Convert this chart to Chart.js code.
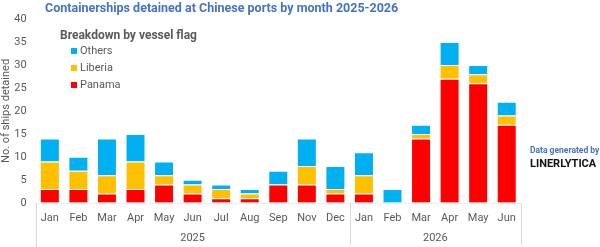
<!DOCTYPE html>
<html>
<head>
<meta charset="utf-8">
<script src="https://cdn.jsdelivr.net/npm/chart.js@4"></script>
<style>
  html, body { margin: 0; padding: 0; background: #fff; }
  #wrap { width: 600px; height: 247px; position: relative; }
</style>
</head>
<body>
<div id="wrap"><canvas id="myChart"></canvas></div>
<script>
// data
const months = ["Jan", "Feb", "Mar", "Apr", "May", "Jun", "Jul", "Aug", "Sep", "Nov", "Dec",
                "Jan", "Feb", "Mar", "Apr", "May", "Jun"];
const years = ["2025", "2026"];
const monthsPerYear = [11, 6];
const panama = [3, 3, 2, 3, 4, 2, 1, 1, 4, 4, 2, 2, 0, 14, 27, 26, 17];
const liberia = [6, 4, 4, 6, 2, 2, 2, 1, 0, 4, 1, 4, 0, 1, 3, 2, 2];
const others = [5, 3, 8, 6, 3, 1, 1, 1, 3, 6, 5, 5, 3, 2, 5, 2, 3];
const yTicks = [0, 40, 5];

const fontFam = "Roboto, 'Noto Sans', sans-serif";
const grey = "#595959";

// title, legend box, source note
const decoPlugin = {
  id: "deco",
  afterDraw(chart) {
    const ctx = chart.ctx;
    const area = chart.chartArea;
    ctx.save();
    ctx.textBaseline = "middle";
    ctx.textAlign = "left";

    ctx.fillStyle = "#4472C4";
    ctx.font = "bold 12.5px " + fontFam;
    ctx.fillText("Containerships detained at Chinese ports by month 2025-2026", 45, 9);

    ctx.fillStyle = grey;
    ctx.font = "bold 12px " + fontFam;
    ctx.fillText("Breakdown by vessel flag", 60, 36);

    ctx.font = "11px " + fontFam;
    const ds = chart.data.datasets.slice().reverse();
    ds.forEach(function (d, i) {
      const y = 51 + i * 17;
      ctx.fillStyle = d.backgroundColor;
      ctx.fillRect(71, y - 3, 6, 6);
      ctx.fillStyle = grey;
      ctx.fillText(d.label, 80, y);
    });

    ctx.fillStyle = "#4472C4";
    ctx.font = "bold 8.5px " + fontFam;
    ctx.fillText("Data generated by", 530, 151);
    ctx.fillStyle = "#111";
    ctx.font = "bold 11px " + fontFam;
    ctx.fillText("LINERLYTICA", 530, 164);

    // two level x axis
    const step = (area.right - area.left) / months.length;
    ctx.strokeStyle = "#ececec";
    ctx.lineWidth = 1;
    ctx.beginPath();
    ctx.moveTo(area.left, area.bottom + 0.5);
    ctx.lineTo(area.right, area.bottom + 0.5);
    ctx.stroke();
    ctx.strokeStyle = "#d9d9d9";
    let start = 0;
    ctx.beginPath();
    ctx.moveTo(Math.round(area.left) + 0.5, area.bottom);
    ctx.lineTo(Math.round(area.left) + 0.5, chart.height);
    ctx.stroke();
    ctx.font = "11px " + fontFam;
    ctx.fillStyle = grey;
    ctx.textAlign = "center";
    years.forEach(function (yr, i) {
      const end = start + monthsPerYear[i];
      const x0 = area.left + start * step;
      const x1 = area.left + end * step;
      ctx.beginPath();
      ctx.moveTo(Math.round(x1) + 0.5, area.bottom);
      ctx.lineTo(Math.round(x1) + 0.5, chart.height - 2);
      ctx.stroke();
      ctx.fillText(yr, (x0 + x1) / 2, 238);
      start = end;
    });
    ctx.restore();
  }
};

const data = {
  labels: months,
  datasets: [
    { label: "Panama", data: panama, backgroundColor: "#FF0000" },
    { label: "Liberia", data: liberia, backgroundColor: "#FFC000" },
    { label: "Others", data: others, backgroundColor: "#00B0F0" },
  ],
};
data.datasets.forEach(function (d) {
  d.borderColor = "rgba(255,255,255,0.6)";
  d.borderWidth = 1;
  d.barPercentage = 0.7;
  d.categoryPercentage = 1;
});

const config = {
  type: "bar",
  data,
  plugins: [decoPlugin],
  options: {
    responsive: true,
    maintainAspectRatio: false,
    animation: false,
    layout: { padding: { left: 0, right: 79, top: 19, bottom: 21 } },
    plugins: { legend: { display: false }, tooltip: { enabled: false } },
    scales: {
      x: {
        stacked: true,
        grid: { display: false },
        border: { display: false },
        ticks: { color: grey, font: { family: fontFam, size: 11 }, padding: 1, maxRotation: 0, autoSkip: false },
      },
      y: {
        stacked: true,
        min: yTicks[0],
        max: yTicks[1],
        grid: { display: false },
        border: { display: false },
        ticks: { stepSize: yTicks[2], color: grey, font: { family: fontFam, size: 11 }, padding: 1 },
        title: { display: true, text: "No. of ships detained", color: grey, font: { family: fontFam, size: 11 }, padding: 0 },
      },
    },
  },
};

const myChart = new Chart(document.getElementById("myChart"), config);
</script>
</body>
</html>
